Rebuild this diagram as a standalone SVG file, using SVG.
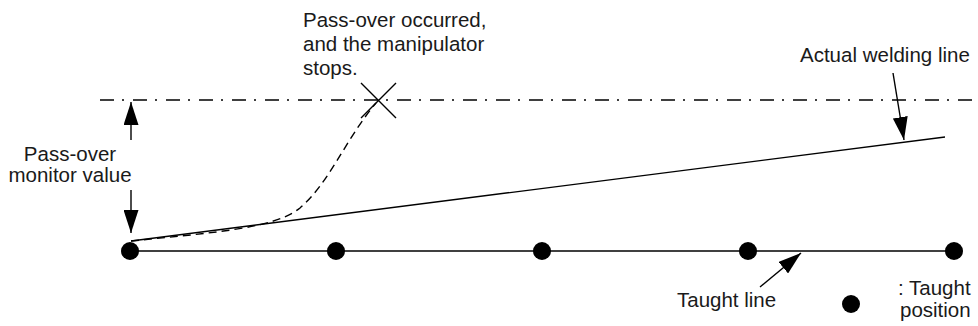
<svg xmlns="http://www.w3.org/2000/svg" width="978" height="326" viewBox="0 0 978 326">
<defs>
<marker id="ah" markerUnits="userSpaceOnUse" markerWidth="24" markerHeight="15" refX="23" refY="7.5" orient="auto">
<path d="M0,0 L23,7.5 L0,15 z" fill="#000"/>
</marker>
</defs>
<style>
text{font-family:"Liberation Sans",Arial,sans-serif;font-size:20.5px;fill:#1a1a1a}
.ln{stroke:#000;stroke-width:1.4;fill:none}
.dot{fill:#000}
</style>
<rect width="978" height="326" fill="#fff"/>
<g id="monitor-limit">
<line class="ln" x1="100" y1="100" x2="978" y2="100" stroke-dasharray="14 8 2 9"/>
</g>
<g id="taught-line">
<line class="ln" x1="130" y1="251" x2="954" y2="251"/>
<circle class="dot" cx="130" cy="251" r="9"/>
<circle class="dot" cx="336" cy="251" r="9"/>
<circle class="dot" cx="542" cy="251" r="9"/>
<circle class="dot" cx="748" cy="251" r="9"/>
<circle class="dot" cx="954" cy="251" r="9"/>
</g>
<g id="welding-line">
<line class="ln" x1="131" y1="241" x2="945" y2="137"/>
</g>
<g id="pass-over-path">
<path class="ln" d="M131,241 C220,232 275,228 300,208 C330,182 345,140 376,103" stroke-dasharray="8 5"/>
<path class="ln" d="M361,83 L396,118 M396,83 L361,118"/>
</g>
<g id="connectors">
<line class="ln" x1="131" y1="140" x2="131" y2="102" marker-end="url(#ah)"/>
<line class="ln" x1="131" y1="190" x2="131" y2="233" marker-end="url(#ah)"/>
<line class="ln" x1="893" y1="73" x2="904" y2="140" marker-end="url(#ah)"/>
<line class="ln" x1="760" y1="287" x2="801" y2="253" marker-end="url(#ah)"/>
</g>
<g id="labels">
<text x="303" y="27">Pass-over occurred,</text>
<text x="303" y="51">and the manipulator</text>
<text x="303" y="75">stops.</text>
<text x="800" y="62">Actual welding line</text>
<text x="70" y="160.5" text-anchor="middle">Pass-over</text>
<text x="70" y="181.5" text-anchor="middle">monitor value</text>
<text x="677" y="307">Taught line</text>
</g>
<g id="legend">
<circle class="dot" cx="851" cy="304" r="9"/>
<text x="898" y="295">: Taught</text>
<text x="900" y="317">position</text>
</g>
</svg>
